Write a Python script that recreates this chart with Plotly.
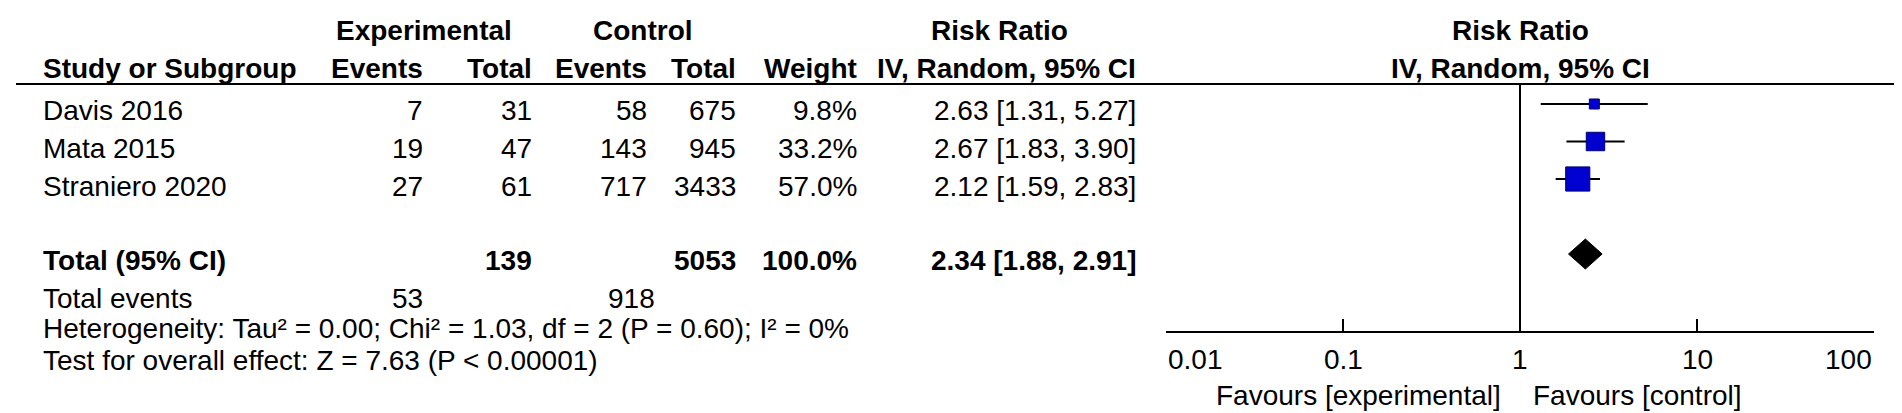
import math
import plotly.graph_objects as go

# ---------------- data ----------------
studies = ["Davis 2016", "Mata 2015", "Straniero 2020"]
exp_events = [7, 19, 27]
exp_total = [31, 47, 61]
ctrl_events = [58, 143, 717]
ctrl_total = [675, 945, 3433]
weights = [9.8, 33.2, 57.0]
rr = [2.63, 2.67, 2.12]
ci_low = [1.31, 1.83, 1.59]
ci_high = [5.27, 3.90, 2.83]

pooled_label = "Total (95% CI)"
pooled_rr = 2.34
pooled_low = 1.88
pooled_high = 2.91
pooled_weight = 100.0
heterogeneity = "Heterogeneity: Tau² = 0.00; Chi² = 1.03, df = 2 (P = 0.60); I² = 0%"
overall_effect = "Test for overall effect: Z = 7.63 (P < 0.00001)"

tick_vals = [0.01, 0.1, 1, 10, 100]
tick_text = ["0.01", "0.1", "1", "10", "100"]
favours_left = "Favours [experimental]"
favours_right = "Favours [control]"

# ---------------- layout constants ----------------
W, H = 1902, 413
PLOT_X0, PLOT_X1 = 1158, 1866
PLOT_TOP, AXIS_Y = 76, 323
ROW0_PX, ROW_STEP = 96, 37.5
TEXT_DY = 7
FONT = "Liberation Sans, Arial, sans-serif"
FS = 28
study_rows = list(range(len(studies)))
pooled_row = len(studies) + 1

def row_px(r):
    return ROW0_PX + r * ROW_STEP

def py(px):
    return 1 - px / H

def px_x(px):
    return px / W

y_bottom = (AXIS_Y - ROW0_PX) / ROW_STEP
y_top = (PLOT_TOP - ROW0_PX) / ROW_STEP

fig = go.Figure()

# line of no effect
fig.add_trace(go.Scatter(x=[1, 1], y=[y_top, y_bottom], mode="lines",
                         line=dict(color="black", width=2), hoverinfo="skip"))

# CI lines
ci_x, ci_y = [], []
for r, lo, hi in zip(study_rows, ci_low, ci_high):
    ci_x += [lo, hi, None]
    ci_y += [r, r, None]
fig.add_trace(go.Scatter(x=ci_x, y=ci_y, mode="lines",
                         line=dict(color="black", width=2), hoverinfo="skip"))

# weighted squares
fig.add_trace(go.Scatter(
    x=rr, y=study_rows, mode="markers", opacity=1,
    marker=dict(symbol="square", size=[3.2 * math.sqrt(w) for w in weights],
                color="#0000d0", opacity=1, line=dict(color="#000070", width=1)),
    hoverinfo="skip"))

# pooled diamond
DH = 0.4
fig.add_trace(go.Scatter(
    x=[pooled_low, pooled_rr, pooled_high, pooled_rr, pooled_low],
    y=[pooled_row, pooled_row - DH, pooled_row, pooled_row + DH, pooled_row],
    mode="lines", fill="toself", fillcolor="black",
    line=dict(color="black", width=1), hoverinfo="skip"))

ann = []

def txt(x, y, s, anchor="left", bold=False, xref="paper"):
    ann.append(dict(x=x, y=y, xref=xref, yref="paper", text=("<b>%s</b>" % s) if bold else s,
                    showarrow=False, xanchor=anchor, yanchor="middle",
                    font=dict(family=FONT, size=FS, color="black")))

# column right edges (px)
C_STUDY = 33
C_EEV, C_ETOT, C_CEV, C_CTOT, C_W, C_CI = 417, 526, 641, 730, 851, 1130

# headers
H1, H2 = 22, 61
txt(px_x(416), py(H1), "Experimental", "center", True)
txt(px_x(635), py(H1), "Control", "center", True)
txt(px_x(991), py(H1), "Risk Ratio", "center", True)
txt(0, py(H1), "Risk Ratio", "center", True, xref="x")
txt(px_x(C_STUDY), py(H2), "Study or Subgroup", "left", True)
txt(px_x(C_EEV), py(H2), "Events", "right", True)
txt(px_x(C_ETOT), py(H2), "Total", "right", True)
txt(px_x(C_CEV), py(H2), "Events", "right", True)
txt(px_x(C_CTOT), py(H2), "Total", "right", True)
txt(px_x(C_W), py(H2), "Weight", "right", True)
txt(px_x(C_CI), py(H2), "IV, Random, 95% CI", "right", True)
txt(0, py(H2), "IV, Random, 95% CI", "center", True, xref="x")

# study rows
for i, r in enumerate(study_rows):
    yy = py(row_px(r) + TEXT_DY)
    txt(px_x(C_STUDY), yy, studies[i])
    txt(px_x(C_EEV), yy, str(exp_events[i]), "right")
    txt(px_x(C_ETOT), yy, str(exp_total[i]), "right")
    txt(px_x(C_CEV), yy, str(ctrl_events[i]), "right")
    txt(px_x(C_CTOT), yy, str(ctrl_total[i]), "right")
    txt(px_x(C_W), yy, "%.1f%%" % weights[i], "right")
    txt(px_x(C_CI), yy, "%.2f [%.2f, %.2f]" % (rr[i], ci_low[i], ci_high[i]), "right")

# pooled row
yy = py(row_px(pooled_row) + 6)
txt(px_x(C_STUDY), yy, pooled_label, "left", True)
txt(px_x(C_ETOT), yy, str(sum(exp_total)), "right", True)
txt(px_x(C_CTOT), yy, str(sum(ctrl_total)), "right", True)
txt(px_x(C_W), yy, "%.1f%%" % pooled_weight, "right", True)
txt(px_x(C_CI), yy, "%.2f [%.2f, %.2f]" % (pooled_rr, pooled_low, pooled_high), "right", True)

# footer
yy = py(290)
txt(px_x(C_STUDY), yy, "Total events")
txt(px_x(C_EEV), yy, str(sum(exp_events)), "right")
ann.append(dict(x=px_x(C_CEV - 43), y=yy, xref="paper", yref="paper", text=str(sum(ctrl_events)),
                showarrow=False, xanchor="left", yanchor="middle",
                font=dict(family=FONT, size=FS, color="black")))
txt(px_x(C_STUDY), py(320), heterogeneity)
txt(px_x(C_STUDY), py(352), overall_effect)

# tick labels
for i, (v, t) in enumerate(zip(tick_vals, tick_text)):
    anchor = "left" if i == 0 else ("right" if i == len(tick_vals) - 1 else "center")
    txt(math.log10(v), py(351), t, anchor, xref="x")

# favours
ann.append(dict(x=0, y=py(387), xref="x", yref="paper", text=favours_left, showarrow=False,
                xanchor="right", yanchor="middle", xshift=-17,
                font=dict(family=FONT, size=FS, color="black")))
ann.append(dict(x=0, y=py(387), xref="x", yref="paper", text=favours_right, showarrow=False,
                xanchor="left", yanchor="middle", xshift=11,
                font=dict(family=FONT, size=FS, color="black")))

fig.update_layout(
    width=W, height=H, margin=dict(l=0, r=0, t=0, b=0),
    paper_bgcolor="white", plot_bgcolor="white", showlegend=False,
    annotations=ann,
    shapes=[dict(type="line", xref="paper", yref="paper", x0=px_x(8), x1=px_x(1893),
                 y0=py(PLOT_TOP), y1=py(PLOT_TOP), line=dict(color="black", width=2))],
    xaxis=dict(type="log", range=[-2, 2], domain=[PLOT_X0 / W, PLOT_X1 / W],
               showline=True, linecolor="black", linewidth=2,
               ticks="inside", ticklen=12, tickwidth=2, tickcolor="black",
               tickvals=tick_vals, showticklabels=False, showgrid=False, zeroline=False,
               fixedrange=True),
    yaxis=dict(range=[y_bottom, y_top], domain=[py(AXIS_Y), py(PLOT_TOP)],
               visible=False, showgrid=False, zeroline=False, fixedrange=True),
)

fig.write_html("out.html")
